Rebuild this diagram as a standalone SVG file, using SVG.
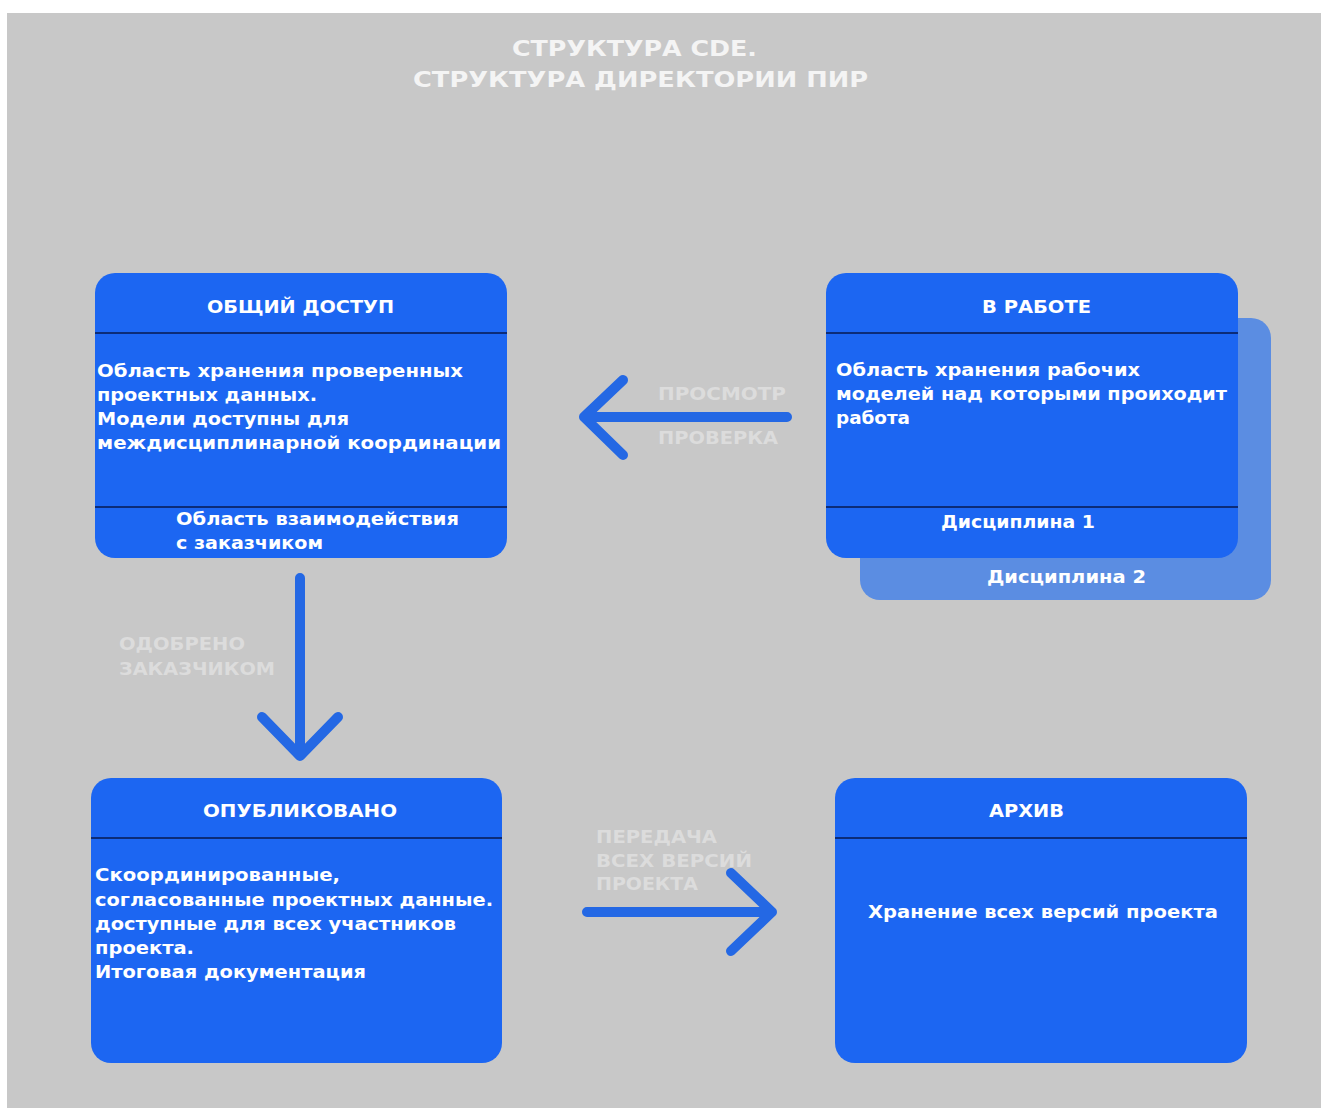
<svg xmlns="http://www.w3.org/2000/svg" width="1321" height="1108" viewBox="0 0 1321 1108">
<style>
.box{fill:#1c66f2}
.back{fill:#5b8de2}
.div{stroke:#0c2c78;stroke-width:2}
.t{font-family:"DejaVu Sans","Liberation Sans",sans-serif;font-weight:bold;fill:#ffffff;font-size:17px}
.h{font-size:18px}
.lbl{font-family:"DejaVu Sans","Liberation Sans",sans-serif;font-weight:bold;fill:#dcdcdc;font-size:17px}
.title{font-family:"DejaVu Sans","Liberation Sans",sans-serif;font-weight:bold;fill:#f4f4f4;font-size:22px}
.arr{fill:none;stroke:#2468e4;stroke-width:10;stroke-linecap:round;stroke-linejoin:round}
</style>
<rect x="0" y="0" width="1321" height="1108" fill="#ffffff"/>
<rect x="7" y="13" width="1314" height="1095" fill="#c8c8c8"/>
<g id="title">
<text class="title" x="512" y="56" textLength="245" lengthAdjust="spacingAndGlyphs">СТРУКТУРА CDE.</text>
<text class="title" x="413" y="87" textLength="455" lengthAdjust="spacingAndGlyphs">СТРУКТУРА ДИРЕКТОРИИ ПИР</text>
</g>
<g id="node-shared">
<rect class="box" x="95" y="273" width="412" height="285" rx="20"/>
<line class="div" x1="95" y1="333" x2="507" y2="333"/>
<line class="div" x1="95" y1="507" x2="507" y2="507"/>
<text class="t h" x="207" y="313" textLength="187" lengthAdjust="spacingAndGlyphs">ОБЩИЙ ДОСТУП</text>
<text class="t" x="97" y="377" textLength="366" lengthAdjust="spacingAndGlyphs">Область хранения проверенных</text>
<text class="t" x="97" y="401" textLength="220" lengthAdjust="spacingAndGlyphs">проектных данных.</text>
<text class="t" x="97" y="425" textLength="252" lengthAdjust="spacingAndGlyphs">Модели доступны для</text>
<text class="t" x="97" y="449" textLength="404" lengthAdjust="spacingAndGlyphs">междисциплинарной координации</text>
<text class="t" x="176" y="525" textLength="283" lengthAdjust="spacingAndGlyphs">Область взаимодействия</text>
<text class="t" x="176" y="549" textLength="147" lengthAdjust="spacingAndGlyphs">с заказчиком</text>
</g>
<g id="node-work">
<rect class="back" x="860" y="318" width="411" height="282" rx="20"/>
<text class="t" x="987" y="583" textLength="159" lengthAdjust="spacingAndGlyphs">Дисциплина 2</text>
<rect class="box" x="826" y="273" width="412" height="285" rx="20"/>
<line class="div" x1="826" y1="333" x2="1238" y2="333"/>
<line class="div" x1="826" y1="507" x2="1238" y2="507"/>
<text class="t h" x="982" y="313" textLength="109" lengthAdjust="spacingAndGlyphs">В РАБОТЕ</text>
<text class="t" x="836" y="376" textLength="304" lengthAdjust="spacingAndGlyphs">Область хранения рабочих</text>
<text class="t" x="836" y="400" textLength="391" lengthAdjust="spacingAndGlyphs">моделей над которыми проиходит</text>
<text class="t" x="836" y="424" textLength="74" lengthAdjust="spacingAndGlyphs">работа</text>
<text class="t" x="941" y="528" textLength="154" lengthAdjust="spacingAndGlyphs">Дисциплина 1</text>
</g>
<g id="node-published">
<rect class="box" x="91" y="778" width="411" height="285" rx="20"/>
<line class="div" x1="91" y1="838" x2="502" y2="838"/>
<text class="t h" x="203" y="817" textLength="194" lengthAdjust="spacingAndGlyphs">ОПУБЛИКОВАНО</text>
<text class="t" x="95" y="881" textLength="245" lengthAdjust="spacingAndGlyphs">Скоординированные,</text>
<text class="t" x="95" y="906" textLength="398" lengthAdjust="spacingAndGlyphs">согласованные проектных данные.</text>
<text class="t" x="95" y="930" textLength="361" lengthAdjust="spacingAndGlyphs">доступные для всех участников</text>
<text class="t" x="95" y="954" textLength="99" lengthAdjust="spacingAndGlyphs">проекта.</text>
<text class="t" x="95" y="978" textLength="271" lengthAdjust="spacingAndGlyphs">Итоговая документация</text>
</g>
<g id="node-archive">
<rect class="box" x="835" y="778" width="412" height="285" rx="20"/>
<line class="div" x1="835" y1="838" x2="1247" y2="838"/>
<text class="t h" x="989" y="817" textLength="75" lengthAdjust="spacingAndGlyphs">АРХИВ</text>
<text class="t" x="868" y="918" textLength="350" lengthAdjust="spacingAndGlyphs">Хранение всех версий проекта</text>
</g>
<g id="connectors">
<path class="arr" d="M787 417 H584 M623 380 L584 417 L623 455"/>
<path class="arr" d="M300 578 V756 M262 717 L300 756 L338 717"/>
<path class="arr" d="M587 912 H772 M731 873 L772 912 L731 951"/>
<text class="lbl" x="658" y="400" textLength="128" lengthAdjust="spacingAndGlyphs">ПРОСМОТР</text>
<text class="lbl" x="658" y="444" textLength="120" lengthAdjust="spacingAndGlyphs">ПРОВЕРКА</text>
<text class="lbl" x="119" y="650" textLength="126" lengthAdjust="spacingAndGlyphs">ОДОБРЕНО</text>
<text class="lbl" x="119" y="675" textLength="156" lengthAdjust="spacingAndGlyphs">ЗАКАЗЧИКОМ</text>
<text class="lbl" x="596" y="843" textLength="121" lengthAdjust="spacingAndGlyphs">ПЕРЕДАЧА</text>
<text class="lbl" x="596" y="867" textLength="156" lengthAdjust="spacingAndGlyphs">ВСЕХ ВЕРСИЙ</text>
<text class="lbl" x="596" y="890" textLength="102" lengthAdjust="spacingAndGlyphs">ПРОЕКТА</text>
</g>
</svg>
